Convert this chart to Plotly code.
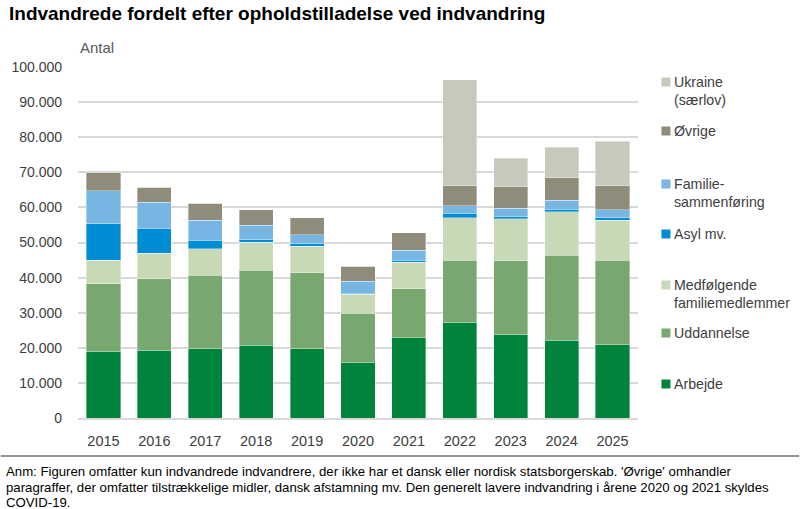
import plotly.graph_objects as go

years = ["2015", "2016", "2017", "2018", "2019", "2020", "2021", "2022", "2023", "2024", "2025"]

arbejde = [19000, 19300, 19700, 20700, 19700, 15700, 22900, 27200, 23700, 22200, 20900]
uddannelse = [19200, 20400, 20900, 21400, 21700, 14200, 13900, 17800, 21100, 24200, 24000]
medfoelgende = [6700, 7200, 7600, 8000, 7500, 5300, 7600, 12100, 12000, 12400, 11500]
asyl = [10450, 7200, 2400, 750, 700, 400, 600, 1300, 550, 700, 700]
familie = [9400, 7400, 5800, 4100, 2650, 3300, 2750, 2100, 2400, 2500, 2300]
oevrige = [5230, 4300, 4750, 4450, 4750, 4400, 5000, 5600, 6200, 6400, 6800]
ukraine = [0, 0, 0, 0, 0, 0, 0, 30300, 8000, 8800, 12600]

series = [
    ("Arbejde", "Arbejde", arbejde, "#00843D"),
    ("Uddannelse", "Uddannelse", uddannelse, "#78A86F"),
    ("Medfølgende familiemedlemmer", "Medfølgende<br>familiemedlemmer", medfoelgende, "#C8D9B7"),
    ("Asyl mv.", "Asyl mv.", asyl, "#008DD5"),
    ("Familiesammenføring", "Familie-<br>sammenføring", familie, "#77B5E3"),
    ("Øvrige", "Øvrige", oevrige, "#8F8C7B"),
    ("Ukraine (særlov)", "Ukraine<br>(særlov)", ukraine, "#C9C8BC"),
]
# legend label vertical centres (pixels from top) in reference
legend_y_px = [384, 333, 294, 234, 193, 131, 91]

note_lines = [
    "Anm: Figuren omfatter kun indvandrede indvandrere, der ikke har et dansk eller nordisk statsborgerskab. 'Øvrige' omhandler",
    "paragraffer, der omfatter tilstrækkelige midler, dansk afstamning mv. Den generelt lavere indvandring i årene 2020 og 2021 skyldes",
    "COVID-19.",
]
note_y_px = [471, 487, 502]

W, H = 800, 509
ml, mr, mt, mb = 77.5, 161.5, 67, 91
PW, PH = W - ml - mr, H - mt - mb

fig = go.Figure()
for name, label, vals, col in series:
    fig.add_trace(go.Bar(
        x=years, y=vals, name=name, marker_color=col,
        marker_line=dict(color="rgba(255,255,255,0.6)", width=0.6),
        showlegend=False,
    ))

font = "Liberation Sans, Arial, sans-serif"
annotations = []
shapes = []
for (name, label, vals, col), ypx in zip(series, legend_y_px):
    annotations.append(dict(
        xref="paper", yref="paper", x=(673 - ml) / PW, y=(H - mb - ypx) / PH,
        text=label, showarrow=False, xanchor="left", yanchor="middle", align="left",
        font=dict(family=font, size=14.2, color="#404040"),
    ))
    nlines = label.count("<br>") + 1
    first_line_px = ypx - (nlines - 1) * 9
    x0 = (662 - ml) / PW
    x1 = (671 - ml) / PW
    yc = (H - mb - first_line_px) / PH
    dy = 4.5 / PH
    shapes.append(dict(type="rect", xref="paper", yref="paper", x0=x0, x1=x1,
                       y0=yc - dy, y1=yc + dy, fillcolor=col, line=dict(width=0)))

# title
annotations.append(dict(
    xref="paper", yref="paper", x=-(ml - 6) / PW, y=1 + (mt - 14) / PH,
    text="<b>Indvandrede fordelt efter opholdstilladelse ved indvandring</b>",
    showarrow=False, xanchor="left", yanchor="middle",
    font=dict(family=font, size=19, color="#000000"),
))
# axis unit label
annotations.append(dict(
    xref="paper", yref="paper", x=0, y=1 + (mt - 48) / PH,
    text="Antal", showarrow=False, xanchor="left", yanchor="middle",
    font=dict(family=font, size=15, color="#595959"),
))
# note
for line, ypx in zip(note_lines, note_y_px):
    annotations.append(dict(
        xref="paper", yref="paper", x=-(ml - 3) / PW, y=(H - mb - ypx) / PH,
        text=line, showarrow=False, xanchor="left", yanchor="middle", align="left",
        font=dict(family=font, size=13.2, color="#000000"),
    ))
# separator line above note
shapes.append(dict(type="line", xref="paper", yref="paper",
                   x0=-ml / PW, x1=1 + mr / PW,
                   y0=-(456 - (H - mb)) / PH, y1=-(456 - (H - mb)) / PH,
                   line=dict(color="#8C9696", width=2)))

fig.update_layout(
    width=W, height=H, barmode="stack", bargap=0.33,
    margin=dict(l=ml, r=mr, t=mt, b=mb, pad=0),
    paper_bgcolor="white", plot_bgcolor="white",
    separators=",.",
    font=dict(family=font, size=14, color="#404040"),
    xaxis=dict(tickfont=dict(family=font, size=14.5, color="#404040"), showline=True,
               linecolor="#D9D9D9", linewidth=1.5, ticks="", showgrid=False,
               ticklabelstandoff=9, automargin=False),
    yaxis=dict(range=[0, 100000], dtick=10000, tickformat=",d", showgrid=True,
               gridcolor="#D9D9D9", gridwidth=1.5, zeroline=False, ticks="",
               tickfont=dict(family=font, size=14, color="#404040"), ticklabelstandoff=15,
               automargin=False),
    annotations=annotations, shapes=shapes,
)
fig.write_html("out.html", config={"displayModeBar": False},
               post_script="document.body.style.margin='0';")
